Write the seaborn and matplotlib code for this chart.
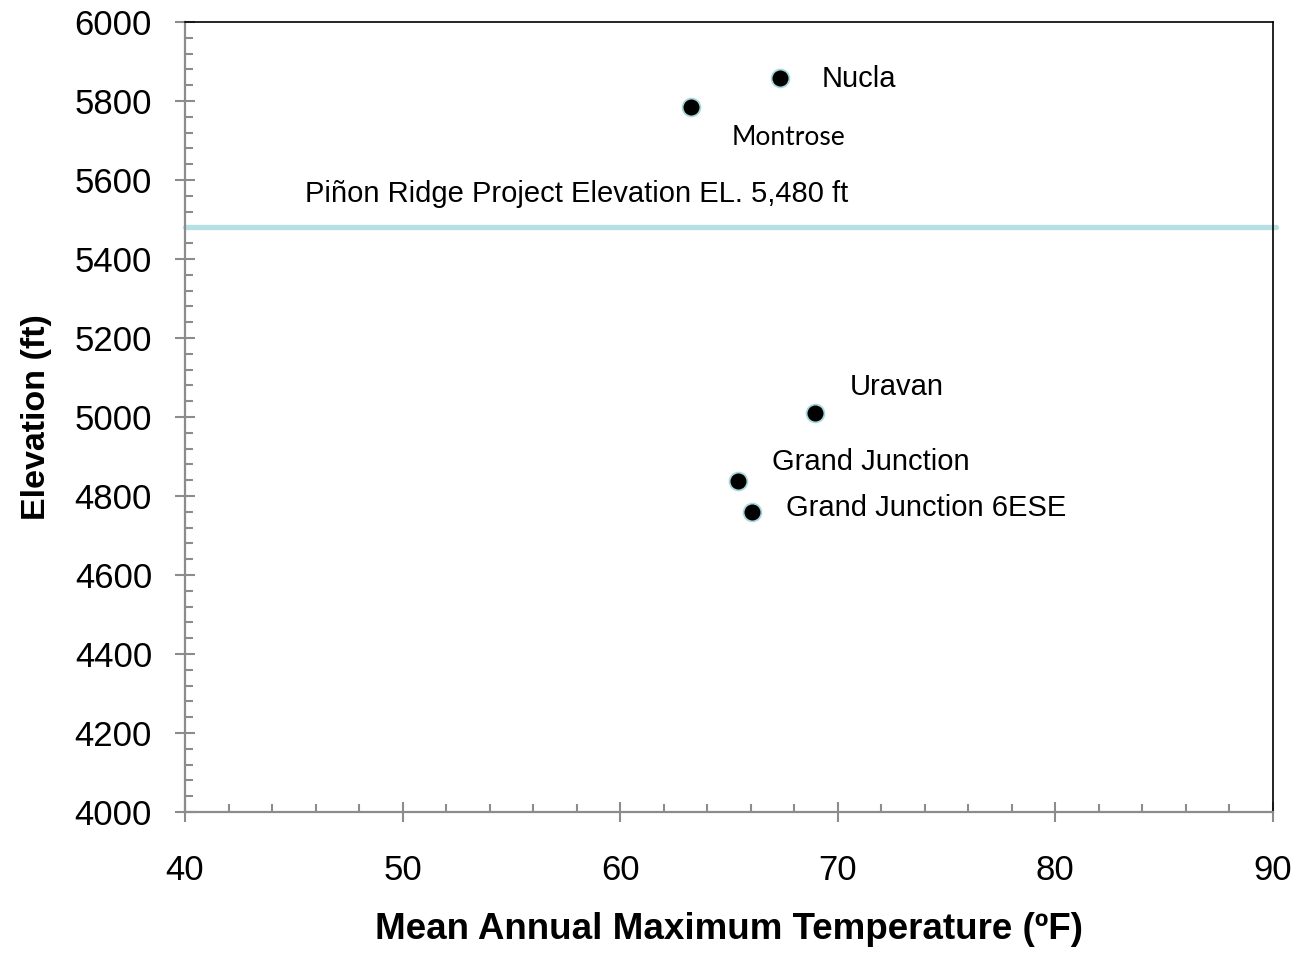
import matplotlib
matplotlib.use("Agg")
import matplotlib.pyplot as plt
import seaborn as sns
import pandas as pd
from matplotlib.ticker import MultipleLocator

stations = ["Nucla", "Montrose", "Uravan", "Grand Junction", "Grand Junction 6ESE"]
temps = [67.35, 63.25, 68.95, 65.4, 66.05]
elevations = [5858, 5785, 5010, 4838, 4760]
project_elev = 5480
project_label = "Piñon Ridge Project Elevation EL. 5,480 ft"

df = pd.DataFrame({"station": stations, "temp": temps, "elev": elevations})

sns.set_style("white")
plt.rcParams['font.family'] = ['Liberation Sans', 'DejaVu Sans']
plt.rcParams['text.color'] = 'black'
plt.rcParams['axes.labelcolor'] = 'black'
plt.rcParams['xtick.labelcolor'] = 'black'
plt.rcParams['ytick.labelcolor'] = 'black'

fig = plt.figure(figsize=(13, 9.55), dpi=100)
ax = fig.add_axes([0.1423, 0.1497, 0.8369, 0.8273])

ax.axhline(project_elev, color="#b7e0e4", lw=3.8, zorder=1, xmax=1.003, clip_on=False)

sns.scatterplot(data=df, x="temp", y="elev", ax=ax, color="black", s=165,
                edgecolor="#a8d8dc", linewidth=1.3, zorder=3, legend=False)

ax.set_xlim(40, 90)
ax.set_ylim(4000, 6000)
ax.xaxis.set_major_locator(MultipleLocator(10))
ax.xaxis.set_minor_locator(MultipleLocator(2))
ax.yaxis.set_major_locator(MultipleLocator(200))
ax.yaxis.set_minor_locator(MultipleLocator(40))

gray = "#8c8c8c"
for s in ["left", "bottom"]:
    ax.spines[s].set_color(gray)
    ax.spines[s].set_linewidth(1.6)
for s in ["top", "right"]:
    ax.spines[s].set_color("black")
    ax.spines[s].set_linewidth(1.2)

ax.tick_params(axis="both", which="major", direction="inout", length=14.4, width=1.5,
               color=gray, labelsize=25)
ax.tick_params(axis="y", which="major", pad=16.5)
ax.tick_params(axis="x", which="major", pad=23)
ax.tick_params(axis="both", which="minor", direction="in", length=5.8, width=1.5, color=gray)
ax.tick_params(axis="both", bottom=True, left=True, which="both")

ax.set_xlabel("Mean Annual Maximum Temperature (ºF)", fontsize=26.5, fontweight="bold", labelpad=18)
ax.set_ylabel("Elevation (ft)", fontsize=24.5, fontweight="bold", labelpad=16)

offsets = {
    "Nucla": (30, -1, "left", ["Liberation Sans"]),
    "Montrose": (70, -22, "center", ["Lato", "DejaVu Sans"]),
    "Uravan": (25, 19, "left", ["Liberation Sans"]),
    "Grand Junction": (24.5, 14, "left", ["Liberation Sans"]),
    "Grand Junction 6ESE": (24.5, 3, "left", ["Liberation Sans"]),
}
for name, t, e in zip(stations, temps, elevations):
    dx, dy, ha, fam = offsets[name]
    fs = 19 if name == "Montrose" else 21
    ax.annotate(name, (t, e), xytext=(dx, dy), textcoords="offset points",
                ha=ha, va="center", fontsize=fs, family=fam)

ax.text(45.5, 5565, project_label, fontsize=21, va="center", ha="left")

fig.savefig("out.png", dpi=100)
